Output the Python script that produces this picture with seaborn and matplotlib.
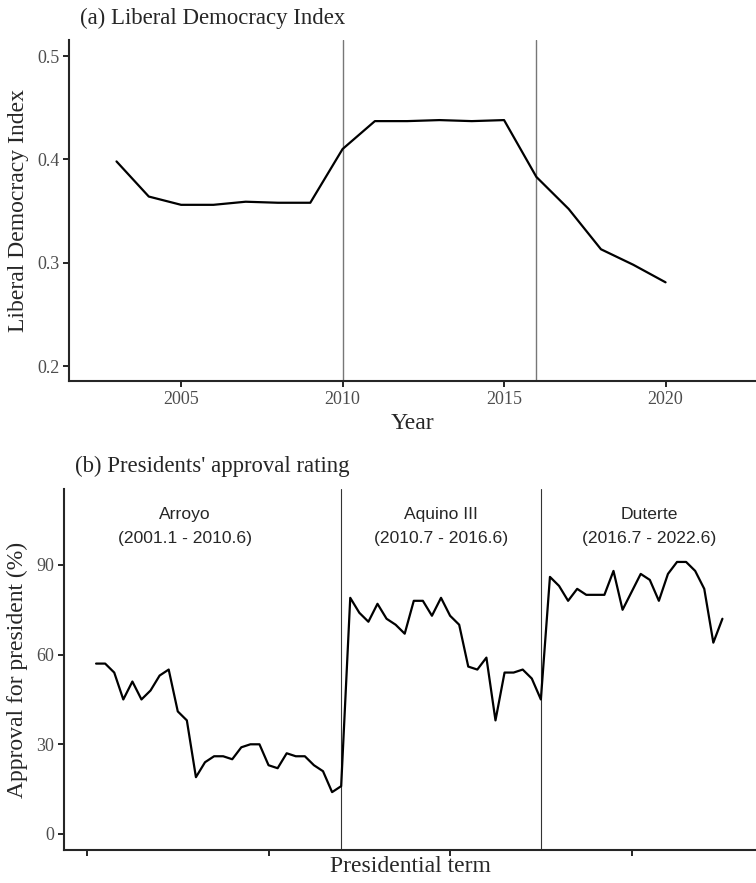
import matplotlib
matplotlib.use("Agg")
import matplotlib.pyplot as plt
import pandas as pd
import seaborn as sns

# (a) Liberal Democracy Index, V-Dem, Philippines
years = list(range(2003, 2021))
ldi = [0.398, 0.364, 0.356, 0.356, 0.359, 0.358, 0.358, 0.410, 0.437,
       0.437, 0.438, 0.437, 0.438, 0.383, 0.352, 0.313, 0.298, 0.281]

# (b) presidents' approval rating, one value per survey
arroyo = [57, 57, 54, 45, 51, 45, 48, 53, 55, 41, 38, 19, 24, 26, 26, 25,
          29, 30, 30, 23, 22, 27, 26, 26, 23, 21, 14, 16]
aquino = [79, 74, 71, 77, 72, 70, 67, 78, 78, 73, 79, 73, 70, 56, 55, 59,
          38, 54, 54, 55, 52, 45]
duterte = [86, 83, 78, 82, 80, 80, 80, 88, 75, 81, 87, 85, 78, 87, 91, 91,
           88, 82, 64, 72]
approval = arroyo + aquino + duterte
survey = list(range(1, len(approval) + 1))

terms = ["Arroyo\n(2001.1 - 2010.6)", "Aquino III\n(2010.7 - 2016.6)",
         "Duterte\n(2016.7 - 2022.6)"]
term_x = [10.8, 39.0, 61.9]
term_breaks = [len(arroyo), len(arroyo) + len(aquino)]
year_breaks = [2010, 2016]

sns.set_style("ticks")
plt.rcParams["font.family"] = ["Liberation Serif", "DejaVu Serif"]

fig = plt.figure(figsize=(7.56, 8.83), dpi=100)
ax1 = fig.add_axes([0.0913, 0.5685, 0.9087, 0.3862])
ax2 = fig.add_axes([0.0847, 0.0374, 0.9153, 0.4088])

df1 = pd.DataFrame({"Year": years, "ldi": ldi})
sns.lineplot(data=df1, x="Year", y="ldi", ax=ax1, color="black", linewidth=1.6)
for b in year_breaks:
    ax1.axvline(b, color="#777777", linewidth=1.0, zorder=0)
ax1.set_xlim(2001.53, 2022.8)
ax1.set_ylim(0.1855, 0.5155)
ax1.set_xticks([2005, 2010, 2015, 2020])
ax1.set_yticks([0.2, 0.3, 0.4, 0.5])
ax1.set_yticklabels(["0.2", "0.3", "0.4", "0.5"])
ax1.set_xlabel("Year", fontsize=17, labelpad=4)
ax1.set_ylabel("Liberal Democracy Index", fontsize=17, labelpad=6)
fig.text(80 / 756, 1 - 18 / 883, "(a) Liberal Democracy Index", fontsize=16.4,
         ha="left", va="center")

df2 = pd.DataFrame({"survey": survey, "approval": approval})
sns.lineplot(data=df2, x="survey", y="approval", ax=ax2, color="black",
             linewidth=1.6)
for b in term_breaks:
    ax2.axvline(b, color="#333333", linewidth=0.8, zorder=0)
for tx, lab in zip(term_x, terms):
    ax2.text(tx, 103, lab, ha="center", va="center", fontsize=12.6,
             family=["Liberation Sans"], linespacing=1.75)
ax2.set_xlim(-2.53, 73.7)
ax2.set_ylim(-5.35, 115.4)
ax2.set_xticks([0, 20, 40, 60])
ax2.set_xticklabels([])
ax2.set_yticks([0, 30, 60, 90])
ax2.set_xlabel("Presidential term", fontsize=17)
ax2.xaxis.set_label_coords(0.5, -0.018)
ax2.set_ylabel("Approval for president (%)", fontsize=17, labelpad=6)
fig.text(75 / 756, 1 - 466 / 883, "(b) Presidents' approval rating",
         fontsize=16.4, ha="left", va="center")

for ax in (ax1, ax2):
    sns.despine(ax=ax)
    ax.spines["left"].set_linewidth(1.5)
    ax.spines["bottom"].set_linewidth(1.5)
    ax.tick_params(axis="both", labelsize=13, labelcolor="#4d4d4d",
                   length=4, width=1.2, color="black", pad=3)

fig.savefig("out.png", dpi=100)
